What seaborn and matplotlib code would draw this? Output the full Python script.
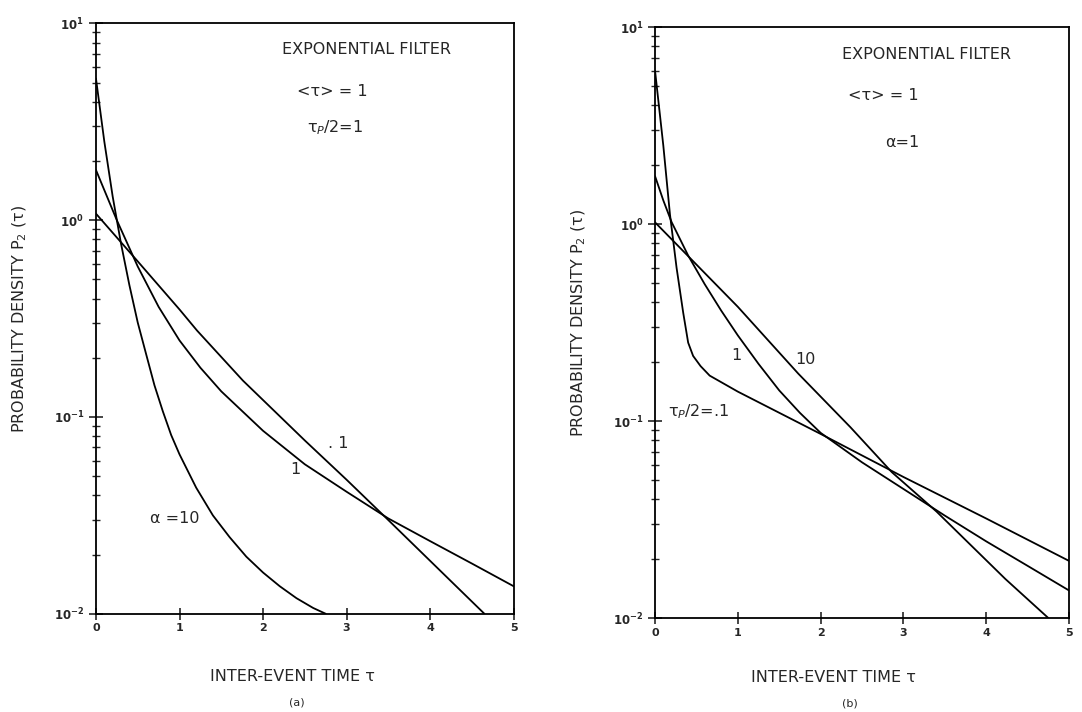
import numpy as np
import pandas as pd
import seaborn as sns
import matplotlib.pyplot as plt
from matplotlib import ticker

# ---- panel (a): exponential filter, tau_p/2 = 1, varying alpha ----
tau_a_01 = [0.0, 0.5, 1.0, 1.21, 1.76, 2.5, 3.0, 3.48, 4.26, 4.65]
p_a_01 = [1.08, 0.618, 0.352, 0.275, 0.153, 0.076, 0.048, 0.0305, 0.0145, 0.0100]

tau_a_1 = [0.0, 0.25, 0.5, 0.75, 1.0, 1.25, 1.5, 2.0, 2.5, 3.0, 3.5, 4.0, 4.5, 5.0]
p_a_1 = [1.80, 1.0, 0.582, 0.363, 0.245, 0.178, 0.135, 0.0851, 0.0575, 0.0417,
         0.0305, 0.0234, 0.018, 0.0138]

tau_a_10 = [0.0, 0.1, 0.2, 0.3, 0.4, 0.5, 0.6, 0.7, 0.8, 0.9, 1.0, 1.2, 1.4, 1.6,
            1.8, 2.0, 2.2, 2.4, 2.6, 2.75]
p_a_10 = [5.25, 2.51, 1.32, 0.76, 0.468, 0.302, 0.209, 0.145, 0.107, 0.081, 0.0646,
          0.0437, 0.0316, 0.0245, 0.0195, 0.0162, 0.0138, 0.0120, 0.0107, 0.0100]

# ---- panel (b): exponential filter, alpha = 1, varying tau_p/2 ----
tau_b_01 = [0.0, 0.10, 0.18, 0.26, 0.34, 0.40, 0.46, 0.55, 0.66, 1.0, 2.0, 3.0, 4.0, 5.0]
p_b_01 = [6.0, 2.5, 1.12, 0.60, 0.355, 0.25, 0.214, 0.19, 0.17, 0.141, 0.086, 0.052,
          0.032, 0.0195]

tau_b_1 = [0.0, 0.1, 0.2, 0.4, 0.6, 0.8, 1.0, 1.25, 1.5, 1.75, 2.0, 2.5, 3.0, 3.5,
           4.0, 4.5, 5.0]
p_b_1 = [1.75, 1.318, 1.023, 0.692, 0.495, 0.363, 0.272, 0.195, 0.143, 0.110, 0.0871,
         0.0617, 0.0452, 0.0331, 0.0245, 0.0184, 0.0138]

tau_b_10 = [0.0, 1.0, 1.73, 2.36, 2.86, 3.40, 4.23, 4.75]
p_b_10 = [1.02, 0.38, 0.174, 0.093, 0.055, 0.0347, 0.0158, 0.0100]

sns.set_style("white")
plt.rcParams['font.family'] = ['DejaVu Sans']
plt.rcParams['mathtext.fontset'] = 'dejavusans'


def decade_label(v, pos):
    e = int(round(np.log10(v)))
    return r'$\mathbf{10^{%d}}$' % e


def style_axes(ax):
    ax.set_yscale('log')
    ax.set_xlim(0, 5)
    ax.set_ylim(1e-2, 1e1)
    for s in ax.spines.values():
        s.set_linewidth(1.3)
        s.set_color('black')
    ax.xaxis.set_major_locator(ticker.MultipleLocator(1))
    ax.yaxis.set_major_locator(ticker.LogLocator(base=10))
    ax.yaxis.set_minor_locator(ticker.LogLocator(base=10, subs=np.arange(2, 10)))
    ax.yaxis.set_major_formatter(ticker.FuncFormatter(decade_label))
    ax.yaxis.set_minor_formatter(ticker.NullFormatter())
    ax.tick_params(axis='y', which='major', direction='inout', length=10, width=1.2,
                   labelsize=8.5, left=True)
    ax.tick_params(axis='y', which='minor', direction='inout', length=6, width=1.0, left=True)
    ax.tick_params(axis='x', which='major', direction='inout', length=8, width=1.2,
                   labelsize=8, bottom=True, pad=3)
    for lbl in ax.get_xticklabels():
        lbl.set_fontweight('bold')
    ax.set_ylabel('PROBABILITY DENSITY P$_2$ (τ)', fontsize=11.5, labelpad=18)
    ax.set_xlabel('')


def draw(ax, tau, p):
    df = pd.DataFrame({'tau': tau, 'p': p})
    sns.lineplot(data=df, x='tau', y='p', ax=ax, color='black', lw=1.3,
                 sort=False, estimator=None)


fig = plt.figure(figsize=(10.82, 7.12), dpi=100)
ax_a = fig.add_axes([0.0887, 0.138, 0.386, 0.829])
ax_b = fig.add_axes([0.6054, 0.132, 0.3826, 0.830])

for tau, p in [(tau_a_01, p_a_01), (tau_a_1, p_a_1), (tau_a_10, p_a_10)]:
    draw(ax_a, tau, p)
for tau, p in [(tau_b_01, p_b_01), (tau_b_1, p_b_1), (tau_b_10, p_b_10)]:
    draw(ax_b, tau, p)

style_axes(ax_a)
style_axes(ax_b)

txt = dict(fontsize=11.5, va='center', ha='left')
# panel (a) annotations
ax_a.text(0.445, 0.956, 'EXPONENTIAL FILTER', transform=ax_a.transAxes, **txt)
ax_a.text(0.481, 0.885, '<τ> = 1', transform=ax_a.transAxes, **txt)
ax_a.text(0.505, 0.824, 'τ$_P$/2=1', transform=ax_a.transAxes, **txt)
ax_a.text(2.78, 0.073, '. 1', **txt)
ax_a.text(2.32, 0.054, '1', **txt)
ax_a.text(0.65, 0.0305, 'α =10', **txt)
ax_a.text(0.47, -0.107, 'INTER-EVENT TIME τ', transform=ax_a.transAxes,
          fontsize=11.5, ha='center', va='center')
ax_a.text(0.48, -0.151, '(a)', transform=ax_a.transAxes, fontsize=8,
          ha='center', va='center')

# panel (b) annotations
ax_b.text(0.452, 0.953, 'EXPONENTIAL FILTER', transform=ax_b.transAxes, **txt)
ax_b.text(0.466, 0.885, '<τ> = 1', transform=ax_b.transAxes, **txt)
ax_b.text(0.556, 0.804, 'α=1', transform=ax_b.transAxes, **txt)
ax_b.text(0.92, 0.216, '1', **txt)
ax_b.text(1.69, 0.206, '10', **txt)
ax_b.text(0.16, 0.111, 'τ$_P$/2=.1', **txt)
ax_b.text(0.43, -0.10, 'INTER-EVENT TIME τ', transform=ax_b.transAxes,
          fontsize=11.5, ha='center', va='center')
ax_b.text(0.47, -0.144, '(b)', transform=ax_b.transAxes, fontsize=8,
          ha='center', va='center')

fig.savefig('out.png', dpi=100)
